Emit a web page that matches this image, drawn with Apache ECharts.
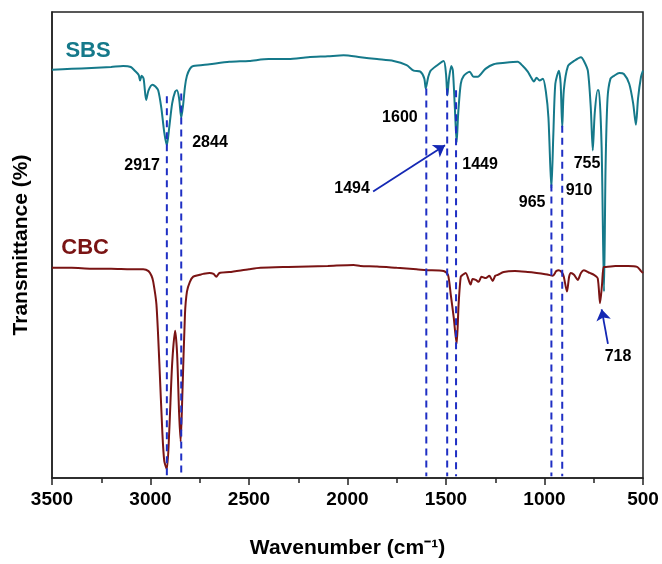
<!DOCTYPE html>
<html>
<head>
<meta charset="utf-8">
<script src="https://cdn.jsdelivr.net/npm/echarts@6/dist/echarts.min.js"></script>
<style>
html,body{margin:0;padding:0;background:#fff;}
#chart{width:662px;height:564px;}
</style>
</head>
<body>
<div id="chart"></div>
<script>
// SBS spectrum: [wavenumber, transmittance (a.u.)]
var sbs = [
[3500,87.6],[3400,87.8],[3300,88.0],[3200,88.2],[3139,88.4],[3100,88.2],[3080,87.4],[3060,86.5],
[3053,85.3],[3045,86.3],[3035,85.7],[3022,81.1],[3010,83.2],[2990,84.4],[2975,84.0],[2961,83.2],
[2945,79.4],[2930,74.1],[2917,71.4],[2905,75.2],[2890,80.4],[2875,82.9],[2866,83.2],[2855,81.5],
[2844,77.3],[2835,79.8],[2825,84.0],[2815,86.3],[2800,87.8],[2783,88.4],[2700,88.8],[2600,89.3],
[2500,89.5],[2400,89.9],[2300,89.9],[2200,90.3],[2100,90.5],[2020,90.7],[1934,90.3],[1850,89.9],
[1766,89.5],[1700,88.6],[1664,87.4],[1630,87.2],[1610,85.7],[1603,83.6],[1590,86.1],[1578,87.4],
[1550,88.4],[1512,89.5],[1500,86.7],[1493,82.1],[1485,85.7],[1473,88.4],[1465,87.4],[1455,79.4],
[1446,72.0],[1438,78.3],[1425,84.6],[1410,86.3],[1380,87.2],[1360,86.1],[1339,86.1],[1300,87.8],
[1258,88.8],[1200,89.1],[1136,89.3],[1110,88.4],[1085,87.2],[1070,86.1],[1054,85.1],[1040,85.9],
[1025,85.3],[1008,85.7],[993,82.9],[980,77.3],[965,62.1],[955,73.9],[945,84.6],[927,87.4],
[918,84.6],[910,75.2],[902,83.2],[881,88.4],[850,89.5],[815,90.3],[800,89.5],[780,87.4],
[765,79.4],[755,70.3],[745,78.3],[730,83.2],[724,83.2],[710,70.9],[698,40.0],[690,66.7],
[680,81.5],[665,85.7],[647,86.3],[620,86.9],[597,86.7],[570,84.6],[550,80.4],[536,75.8],
[525,81.5],[510,86.1],[500,87.4]
];
// CBC spectrum
var cbc = [
[3500,45.1],[3400,45.1],[3300,44.9],[3200,44.9],[3100,44.8],[3037,44.8],[3010,44.4],[2995,43.4],
[2986,42.1],[2970,37.3],[2955,24.6],[2940,9.9],[2930,3.6],[2917,1.9],[2905,9.9],[2890,24.6],
[2875,31.6],[2865,26.7],[2855,14.1],[2847,7.8],[2838,18.3],[2825,35.2],[2815,40.0],[2800,42.1],
[2783,43.2],[2750,43.6],[2732,43.8],[2700,44.0],[2680,43.8],[2666,43.2],[2650,44.0],[2600,44.2],
[2500,44.8],[2442,45.1],[2300,45.3],[2200,45.4],[2100,45.5],[1969,45.7],[1934,45.5],[1850,45.4],
[1750,45.1],[1650,44.8],[1600,44.6],[1512,44.4],[1490,43.6],[1476,39.4],[1461,34.5],[1446,28.8],
[1436,37.3],[1425,43.2],[1415,43.6],[1400,44.0],[1375,41.5],[1365,42.7],[1349,42.5],[1334,42.1],
[1320,43.2],[1298,42.9],[1280,43.4],[1263,42.3],[1250,43.4],[1237,43.6],[1207,44.2],[1150,44.4],
[1085,44.2],[1040,44.0],[1003,43.8],[980,43.6],[958,43.4],[940,44.4],[927,44.6],[910,44.0],
[902,43.2],[886,40.0],[875,43.2],[866,44.0],[850,43.6],[831,42.5],[815,44.0],[800,44.6],
[770,44.0],[749,43.6],[730,42.9],[718,37.5],[708,41.5],[700,45.3],[688,45.3],[640,45.5],
[576,45.5],[530,45.3],[510,44.4],[500,44.0]
];
// Dashed marker lines: wavenumber, top value
var peakWn  = [2917, 2844, 1600, 1494, 1449, 965, 910];
var peakTop = [81.9, 82.5, 83.6, 83.6, 83.2, 63.0, 75.6];
var peakBottom = 0.4;
// Peak annotation texts and their anchor positions [wn, value]
var annText = ['2917','2844','1600','1494','1449','965','910','755','718'];
var annPos  = [[3043,67.0],[2698,72.0],[1734,77.4],[1977,62.1],[1327,67.2],[1063,59.0],[825,61.6],[784,67.4],[627,26.1]];
// Arrows: [from, to]
var arrows = [[[1870,61.5],[1505,71.4]], [[678,28.8],[710,36.2]]];
// Sample labels
var sampleNames = ['SBS','CBC'];
var samplePos = [[3317,91.6],[3332,49.3]];
var sampleColors = ['#15798a','#7a1414'];

var FONT = '"Liberation Sans", Arial, sans-serif';
var chart = echarts.init(document.getElementById('chart'));
var series = [
  {type:'line', name:'SBS', data:sbs, showSymbol:false, smooth:0.25, z:3,
   lineStyle:{color:sampleColors[0], width:2}},
  {type:'line', name:'CBC', data:cbc, showSymbol:false, smooth:0.25, z:3,
   lineStyle:{color:sampleColors[1], width:2}}
];
peakWn.forEach(function(w,i){
  series.push({type:'line', data:[[w,peakTop[i]],[w,peakBottom]], showSymbol:false, z:5,
    lineStyle:{color:'#1f2fc4', width:2, type:[7,5]}, silent:true});
});
series.push({
  type:'scatter', symbolSize:0, z:6, itemStyle:{opacity:1},
  data: annPos.map(function(p,i){return {value:p, name:annText[i]};}),
  label:{show:true, position:'inside', formatter:'{b}', color:'#000', opacity:1, fontSize:16, fontWeight:'bold', fontFamily:FONT},
  markLine:{silent:true, symbol:['none','arrow'], symbolSize:11, label:{show:false},
    lineStyle:{color:'#1428b4', width:1.8, type:'solid', opacity:1},
    data: arrows.map(function(a){return [{coord:a[0]},{coord:a[1]}];})}
});
series.push({
  type:'scatter', symbolSize:0, z:6, itemStyle:{opacity:1},
  data: samplePos.map(function(p,i){return {value:p, name:sampleNames[i],
     label:{color:sampleColors[i]}};}),
  label:{show:true, position:'inside', formatter:'{b}', opacity:1, fontSize:22, fontWeight:'bold', fontFamily:FONT}
});

chart.setOption({
  animation:false,
  backgroundColor:'#fff',
  grid:{left:52, right:19, top:12, bottom:77, show:true, borderColor:'#222', borderWidth:1.5},
  xAxis:{type:'value', inverse:true, min:500, max:3500, interval:500,
    name:'Wavenumber (cm\u207B\u00B9)', nameLocation:'middle', nameGap:60,
    nameTextStyle:{fontSize:21, fontWeight:'bold', color:'#000', fontFamily:FONT},
    axisLine:{lineStyle:{color:'#222', width:1.5}},
    axisTick:{inside:false, length:7, lineStyle:{color:'#222', width:1.5}},
    minorTick:{show:true, splitNumber:2, length:5, lineStyle:{color:'#222', width:1.5}},
    splitLine:{show:false},
    axisLabel:{fontSize:19, fontWeight:'bold', color:'#000', fontFamily:FONT, margin:12,
      formatter:function(v){return String(v);}}},
  yAxis:{type:'value', min:0, max:100,
    name:'Transmittance (%)', nameLocation:'middle', nameGap:20,
    nameTextStyle:{fontSize:21, fontWeight:'bold', color:'#000', fontFamily:FONT},
    axisLine:{show:true, lineStyle:{color:'#222', width:1.5}},
    axisTick:{show:false}, axisLabel:{show:false}, splitLine:{show:false}},
  series:series
});
</script>
</body>
</html>
